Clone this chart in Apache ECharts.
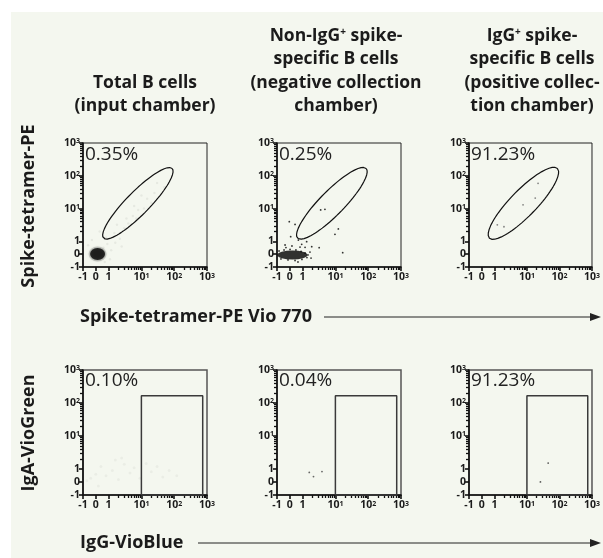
<!DOCTYPE html>
<html>
<head>
<meta charset="utf-8">
<script src="https://cdn.jsdelivr.net/npm/echarts@6/dist/echarts.min.js"></script>
<style>
  html, body { margin: 0; padding: 0; background: #fff; }
  #chart { width: 603px; height: 558px; }
</style>
</head>
<body>
<div id="chart"></div>
<script>
// axis ticks (data values) and their labels
const tickValues = [-1, 0, 1, 10, 100, 1000]
const tickTexts = ['-1', '0', '1', '10{s|1}', '10{s|2}', '10{s|3}']
const minorTickValues = [2, 3, 4, 5, 6, 7, 8, 9, 20, 30, 40, 50, 60, 70, 80, 90, 200, 300, 400, 500, 600, 700, 800, 900]

const columnTitles = [
  ['Total B cells', '(input chamber)'],
  ['Non-IgG{s|+} spike-', 'specific B cells', '(negative collection', 'chamber)'],
  ['IgG{s|+} spike-', 'specific B cells', '(positive collec-', 'tion chamber)']
]
const rowTitles = ['Spike-tetramer-PE', 'IgA-VioGreen']
const xTitles = ['Spike-tetramer-PE Vio 770', 'IgG-VioBlue']
const percentTop = ['0.35%', '0.25%', '91.23%']
const percentBottom = ['0.10%', '0.04%', '91.23%']

// gates
const ellipseCenter = [7.8, 14.5] // data values
const ellipseRadii = [[1.49, 0.35], [1.49, 0.37], [1.49, 0.4]] // decades
const ellipseAngle = 45.5
const rectGate = [[10, -1], [10, 166], [740, 166], [740, -1], [10, -1]]

// events, top row
const top1Core = [[0.14, 0.02]]
const top1Faint = [[0.6, 0.5], [1.2, 0.3], [0.8, 1.3], [1.5, 1.8], [2.2, 1.2], [3, 2.5], [1.8, 3.2], [4, 3.5],
  [5.5, 6], [3.5, 5], [7, 5], [8, 9], [12, 10], [6, 12], [15, 20], [20, 15], [25, 30], [10, 25], [0.3, 2],
  [0.9, 0.8], [2.5, 0.6], [-0.3, 1.1], [1.1, -0.4], [30, 60], [50, 45], [0.7, -0.6], [-0.6, 0.7], [1.6, 0.9]]
const top2Core = [[0.2, -0.06]]
const top2Events = [[-0.84, 0.25], [-0.45, 0.33], [0.02, 0.37], [0.48, 0.33], [0.88, 0.21], [1.19, 0.1],
  [1.46, -0.06], [1.36, -0.26], [0.95, -0.41], [0.41, -0.49], [-0.14, -0.45], [-0.69, -0.37], [0.8, 0.56],
  [0.17, 0.64], [1.68, 0.17], [1.81, -0.3], [-0.3, 0.52], [0.64, -0.61], [3.56, 9.1], [4.8, 9.5], [-0.04, 4],
  [0.41, 3.3], [12.3, 2.4], [9.7, 1.65], [16.7, 0.12], [3.2, 0.51], [1.33, 0.98], [0.93, 0.77], [1.19, 0.54],
  [0.07, 1.39], [0.67, 1.1], [1.9, 0.59], [-0.37, 0.72]]
const top3Events = [[1.23, 3.2], [1.97, 2.8], [7.6, 13], [18, 21], [22, 59]]

// events, bottom row
const bottom1Faint = [[-0.4, 0.3], [0, 0.6], [0.4, 1.2], [0.8, 0.5], [1.3, 0.9], [2, 0.2], [3, 1.4], [4.5, 0.7],
  [6, 1.1], [9, 0.3], [14, 1.5], [20, 0.8], [30, 1.2], [45, 0.4], [70, 0.9], [-0.7, 0.1], [0.2, -0.3],
  [1.6, 1.9], [120, 0.5], [2.5, 2.2]]
const bottom2Events = [[1.6, 0.75], [2.15, 0.43], [3.9, 0.82]]
const bottom3Events = [[45, 1.53], [26, 0.01]]

const LIN = 0.39
function tu (v) {
  return v >= 1 ? Math.log10(v) : (v - 1) * LIN
}
const U_MIN = tu(-1)
const U_MAX = tu(1000)
const pts = arr => arr.map(p => [tu(p[0]), tu(p[1])])

function ellipse (radii) {
  const c = [tu(ellipseCenter[0]), tu(ellipseCenter[1])]
  const a = ellipseAngle * Math.PI / 180
  const out = []
  for (let i = 0; i <= 90; i++) {
    const t = i / 90 * 2 * Math.PI
    const ex = radii[0] * Math.cos(t)
    const ey = radii[1] * Math.sin(t)
    out.push([c[0] + ex * Math.cos(a) - ey * Math.sin(a), c[1] + ex * Math.sin(a) + ey * Math.cos(a)])
  }
  return out
}

const FONT = '"Open Sans", "Noto Sans", sans-serif'
const INK = '#1b1b1b'
const lefts = [83, 277, 469]
const tops = [143, 370]
const heights = [124, 125]
const W = 124

function labelText (v) {
  let best = 0
  tickValues.forEach((t, i) => {
    if (Math.abs(tu(t) - v) < Math.abs(tu(tickValues[best]) - v)) best = i
  })
  return tickTexts[best]
}
const labelRich = { s: { fontSize: 7, fontWeight: 'bold', fontFamily: FONT, color: INK, verticalAlign: 'top', lineHeight: 6 } }

function majorAxis (gi, pos) {
  return {
    type: 'value', gridIndex: gi, position: pos, min: U_MIN, max: U_MAX,
    axisLine: { show: true, onZero: false, lineStyle: { color: '#111', width: 1.6 } },
    splitLine: { show: false },
    axisTick: { show: true, customValues: tickValues.map(tu), length: 4, lineStyle: { color: '#111', width: 1.6 } },
    axisLabel: {
      customValues: tickValues.map(tu), formatter: labelText, rich: labelRich, lineHeight: 11,
      fontSize: 10.5, fontWeight: 'bold', fontFamily: FONT, color: INK, margin: pos === 'left' ? 3 : 5,
      showMinLabel: true, showMaxLabel: true, hideOverlap: false
    }
  }
}
function minorAxis (gi, pos) {
  return {
    type: 'value', gridIndex: gi, position: pos, min: U_MIN, max: U_MAX,
    axisLine: { show: false, onZero: false },
    splitLine: { show: false },
    axisTick: { show: true, customValues: minorTickValues.map(tu), length: 3, lineStyle: { color: '#111', width: 1.3 } },
    axisLabel: { show: false }
  }
}

const grid = []
const xAxis = []
const yAxis = []
const series = []
for (let r = 0; r < 2; r++) {
  for (let c = 0; c < 3; c++) {
    const gi = r * 3 + c
    grid.push({
      left: lefts[c], top: tops[r], width: W, height: heights[r], show: true,
      borderColor: r === 0 ? '#222' : '#555', borderWidth: r === 0 ? 1 : 1.5, backgroundColor: 'transparent'
    })
    xAxis.push(majorAxis(gi, 'bottom'), minorAxis(gi, 'bottom'))
    yAxis.push(majorAxis(gi, 'left'), minorAxis(gi, 'left'))
  }
}
const ax = gi => ({ xAxisIndex: gi * 2, yAxisIndex: gi * 2 })

function scatter (gi, data, opt) {
  series.push(Object.assign({
    type: 'scatter', data: pts(data), symbol: 'circle', symbolSize: 1.8, silent: true,
    itemStyle: { color: '#000' }
  }, ax(gi), opt || {}))
}
function gateLine (gi, data, color, width) {
  series.push(Object.assign({
    type: 'line', data, showSymbol: false, symbol: 'none', silent: true, clip: false,
    lineStyle: { color, width }
  }, ax(gi)))
}

// top row
scatter(0, top1Faint, { itemStyle: { color: 'rgba(0,0,0,0.07)' }, symbolSize: 2.5 })
scatter(0, top1Core, { symbolSize: [18, 15], itemStyle: { color: 'rgba(0,0,0,0.18)' } })
scatter(0, top1Core, { symbolSize: [15, 12], itemStyle: { color: '#050505', shadowBlur: 3, shadowColor: 'rgba(0,0,0,0.5)' } })
scatter(1, top2Core, { symbolSize: [30, 9], itemStyle: { color: '#000' } })
scatter(1, top2Events)
scatter(2, top3Events, { itemStyle: { color: '#666' } })
for (let c = 0; c < 3; c++) gateLine(c, ellipse(ellipseRadii[c]), '#111', 1.2)

// bottom row
scatter(3, bottom1Faint, { itemStyle: { color: 'rgba(0,0,0,0.05)' }, symbolSize: 3 })
scatter(4, bottom2Events, { itemStyle: { color: '#444' } })
scatter(5, bottom3Events, { itemStyle: { color: '#333' } })
for (let c = 0; c < 3; c++) gateLine(3 + c, pts(rectGate), '#3a3a3a', 1.5)

// texts and decorations
const graphic = [
  { type: 'rect', z: -10, shape: { x: 11, y: 12, width: 592, height: 546 }, style: { fill: '#f4f7ef' } }
]
const titleFont = 'bold 17.5px ' + FONT
const titleRich = { s: { fontSize: 10, fontWeight: 'bold', fontFamily: FONT, fill: INK, verticalAlign: 'top', lineHeight: 13 } }
const colCenters = [145, 336, 532]
const lineYs = [36, 59, 83, 106]
columnTitles.forEach((lines, c) => {
  lines.forEach((txt, i) => {
    graphic.push({
      type: 'text', x: colCenters[c], y: lineYs[lineYs.length - lines.length + i],
      style: { text: txt, font: titleFont, fill: INK, align: 'center', verticalAlign: 'middle', rich: titleRich }
    })
  })
})
const rowCenters = [206, 433]
rowTitles.forEach((txt, r) => {
  graphic.push({
    type: 'text', x: 29, y: rowCenters[r], rotation: Math.PI / 2,
    style: { text: txt, font: 'bold 18px ' + FONT, fill: INK, align: 'center', verticalAlign: 'middle' }
  })
})
const xTitleYs = [317, 543]
const arrowStarts = [324, 198]
xTitles.forEach((txt, r) => {
  const y = xTitleYs[r]
  graphic.push({ type: 'text', x: 80, y, style: { text: txt, font: 'bold 18px ' + FONT, fill: INK, align: 'left', verticalAlign: 'middle' } })
  graphic.push({ type: 'line', shape: { x1: arrowStarts[r], y1: y, x2: 592, y2: y }, style: { stroke: '#222', lineWidth: 1 } })
  graphic.push({ type: 'polygon', shape: { points: [[590, y - 4], [601, y], [590, y + 4]] }, style: { fill: '#222' } })
})
const pctYs = [155, 381]
;[percentTop, percentBottom].forEach((row, r) => {
  row.forEach((txt, c) => {
    graphic.push({
      type: 'text', x: lefts[c] + 2, y: pctYs[r],
      style: { text: txt, font: '19px ' + FONT, fill: '#222', align: 'left', verticalAlign: 'middle' }
    })
  })
})

const myChart = echarts.init(document.getElementById('chart'))
myChart.setOption({
  animation: false,
  backgroundColor: '#ffffff',
  grid,
  xAxis,
  yAxis,
  series,
  graphic
})
</script>
</body>
</html>
